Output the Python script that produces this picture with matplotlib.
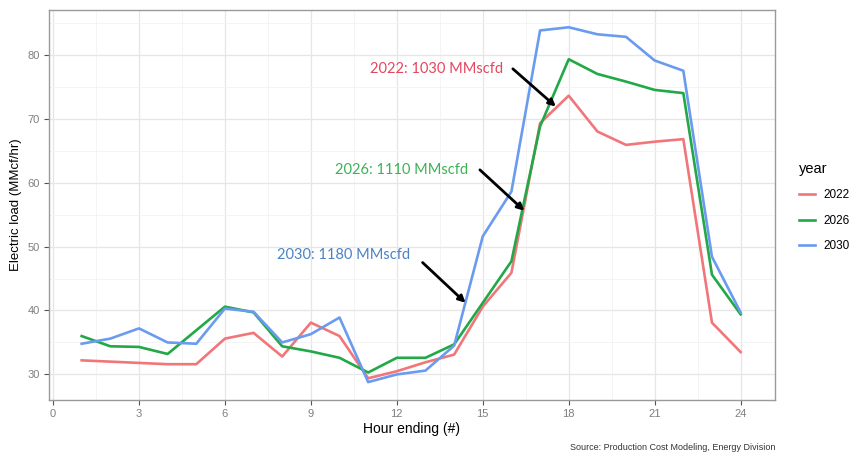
import matplotlib.pyplot as plt
from matplotlib.ticker import MultipleLocator

hours = list(range(1, 25))
load_2022 = [32.2, 32.0, 31.8, 31.6, 31.6, 35.6, 36.5, 32.8, 38.1, 36.0, 29.4, 30.5,
             31.9, 33.1, 40.6, 45.9, 69.3, 73.6, 68.0, 65.9, 66.4, 66.8, 38.1, 33.5]
load_2026 = [36.0, 34.4, 34.3, 33.2, 36.9, 40.6, 39.7, 34.4, 33.6, 32.6, 30.3, 32.6,
             32.6, 34.7, 41.2, 47.7, 68.8, 79.3, 77.0, 75.8, 74.5, 74.0, 45.6, 39.4]
load_2030 = [34.8, 35.6, 37.2, 35.0, 34.8, 40.3, 39.8, 35.0, 36.3, 38.9, 28.8, 30.0,
             30.6, 34.5, 51.6, 58.6, 83.8, 84.3, 83.2, 82.8, 79.1, 77.5, 48.4, 39.7]

years = ["2022", "2026", "2030"]
line_colors = ["#F0767A", "#22A847", "#6A9BEE"]
text_colors = ["#E2475E", "#3DB254", "#4B83C4"]
notes = ["2022: 1030 MMscfd", "2026: 1110 MMscfd", "2030: 1180 MMscfd"]
# where the note text ends, and arrow tail/head (data coords)
note_pos = [(15.7, 77.7), (14.5, 62.0), (12.45, 48.75)]
arrow_from = [(16.05, 77.8), (14.9, 62.0), (12.9, 47.5)]
arrow_to = [(17.55, 71.9), (16.45, 55.6), (14.4, 41.2)]

plt.rcParams['font.family'] = ['Liberation Sans', 'DejaVu Sans']

fig = plt.figure(figsize=(8.54, 4.57), dpi=100)
ax = fig.add_axes([49/854, 1-400/457, (775-49)/854, 390/457])

for yr, vals, c in zip(years, [load_2022, load_2026, load_2030], line_colors):
    ax.plot(hours, vals, color=c, linewidth=1.9, label=yr, zorder=3)

ax.set_xlim(-0.14, 25.2)
ax.set_ylim(26.0, 87.0)
ax.xaxis.set_major_locator(MultipleLocator(3))
ax.xaxis.set_minor_locator(MultipleLocator(1.5))
ax.yaxis.set_major_locator(MultipleLocator(10))
ax.yaxis.set_minor_locator(MultipleLocator(5))
ax.grid(which='major', color='#E6E6E6', linewidth=0.9, zorder=0)
ax.grid(which='minor', color='#F3F3F3', linewidth=0.6, zorder=0)
ax.tick_params(which='minor', length=0)
ax.tick_params(which='major', length=3.5, width=0.8, color='#555555',
               labelsize=8, labelcolor='#7F7F7F', pad=3)
for s in ax.spines.values():
    s.set_color('#9A9A9A')
    s.set_linewidth(1.0)

ax.set_xlabel("Hour ending (#)", fontsize=10, labelpad=2)
ax.set_ylabel("Electric load (MMcf/hr)", fontsize=9.5, labelpad=4)

for txt, pos, tail, head, tc in zip(notes, note_pos, arrow_from, arrow_to, text_colors):
    ax.text(pos[0], pos[1], txt, color=tc, fontsize=10.5, ha='right', va='center',
            family=['Lato', 'DejaVu Sans'], zorder=4)
    ax.annotate("", xy=head, xytext=tail,
                arrowprops=dict(arrowstyle='-|>', color='black', lw=2.0,
                                mutation_scale=10, shrinkA=0, shrinkB=0), zorder=5)

handles, labels = ax.get_legend_handles_labels()
leg = fig.legend(handles, labels, title="year", loc='upper left',
                 bbox_to_anchor=(794/854, 1-157/457), frameon=False,
                 fontsize=8.5, title_fontsize=10.5, handlelength=1.4,
                 handletextpad=0.7, labelspacing=1.15, borderaxespad=0)
leg._legend_box.align = "left"

fig.text(775/854, 1-452/457, "Source: Production Cost Modeling, Energy Division",
         ha='right', va='bottom', fontsize=6.5, color='#333333')

fig.savefig("out.png", dpi=100)
